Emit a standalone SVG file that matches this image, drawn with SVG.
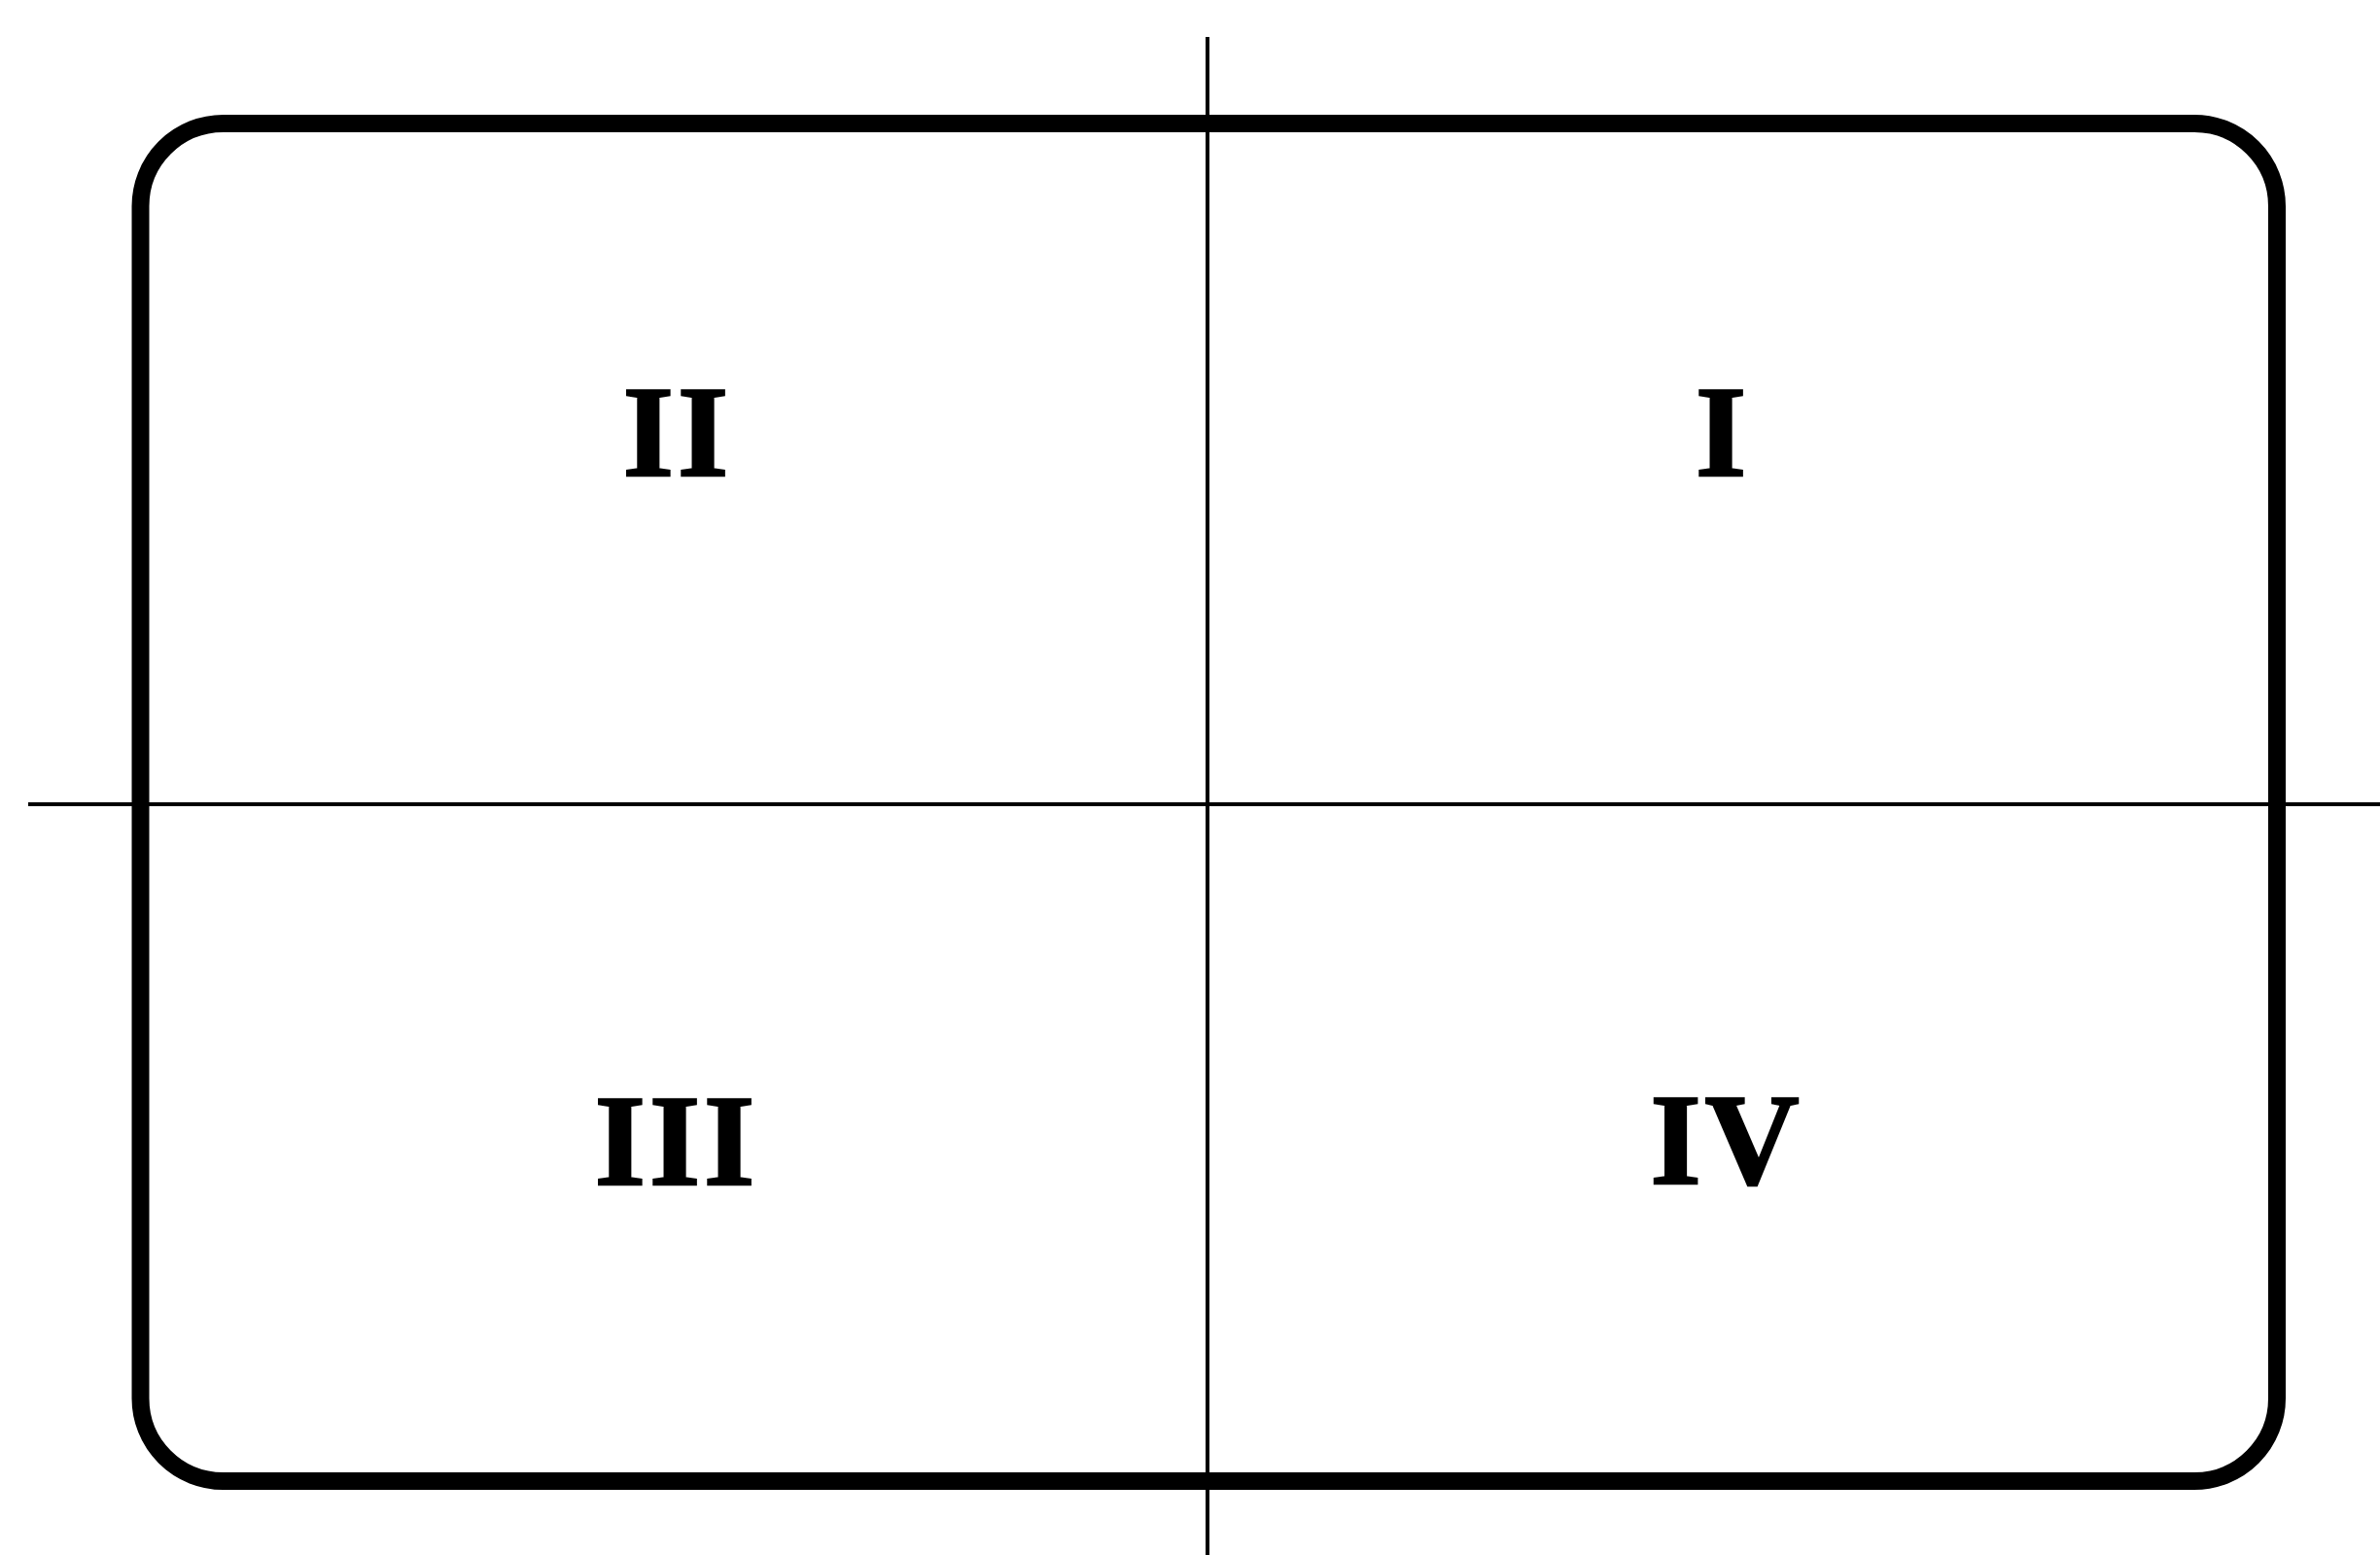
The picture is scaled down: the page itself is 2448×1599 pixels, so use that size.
<svg xmlns="http://www.w3.org/2000/svg" width="2448" height="1599" viewBox="0 0 2448 1599">
<style>
.frame{fill:none;stroke:#000;stroke-width:18}
.axis{stroke:#000;stroke-width:4;fill:none}
.lbl{font-family:"Liberation Serif","Times New Roman",Times,serif;font-weight:700;font-size:134px;fill:#000;stroke:#000;stroke-width:2.5;text-anchor:middle;letter-spacing:4px}
</style>
<rect width="2448" height="1599" fill="#fff"/>
<g id="frame"><rect class="frame" x="144.5" y="127" width="2197.5" height="1396" rx="85" ry="85"/></g>
<g id="connectors">
<line class="axis" x1="1242" y1="38" x2="1242" y2="1599"/>
<line class="axis" x1="29" y1="827" x2="2448" y2="827"/>
</g>
<g id="q2"><text class="lbl" x="697" y="489">II</text></g>
<g id="q1"><text class="lbl" x="1772" y="489">I</text></g>
<g id="q3"><text class="lbl" x="696" y="1218">III</text></g>
<g id="q4"><text class="lbl" x="1776" y="1217">IV</text></g>
</svg>
